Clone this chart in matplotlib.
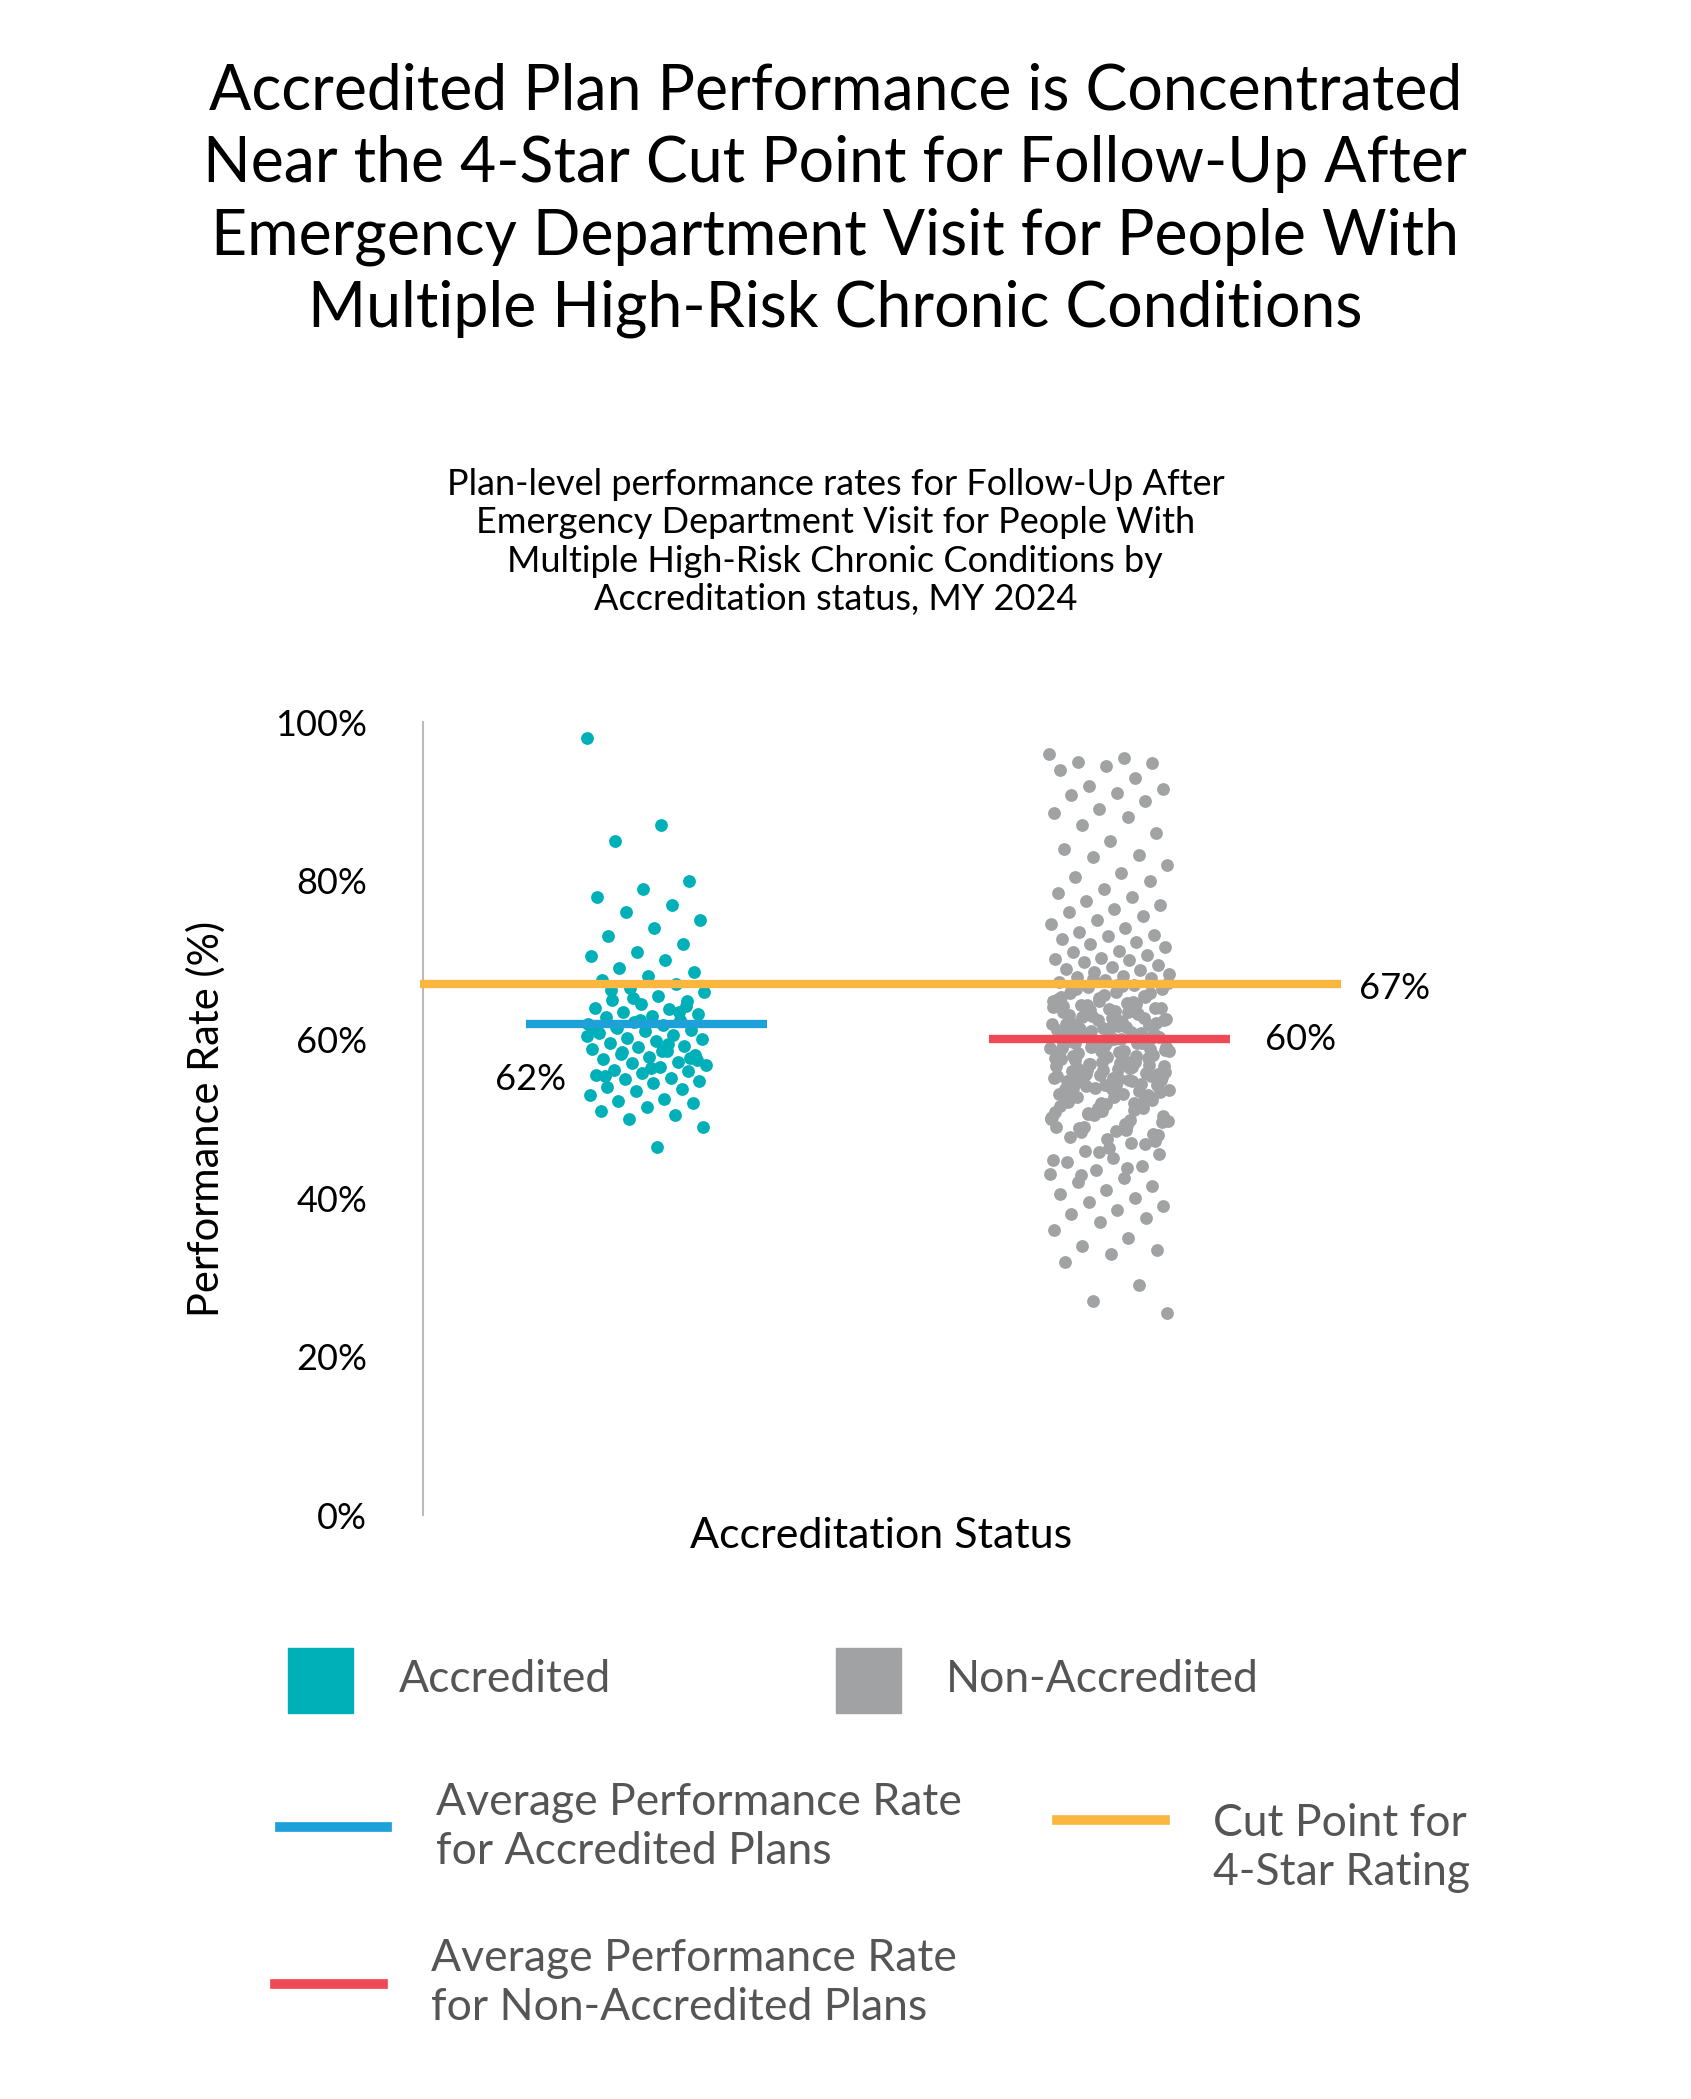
import numpy as np
import matplotlib
matplotlib.use("Agg")
import matplotlib.pyplot as plt
from matplotlib.patches import Rectangle
from matplotlib.lines import Line2D

plt.rcParams['font.family'] = ['Lato', 'DejaVu Sans']

categories = ["Accredited", "Non-Accredited"]
accredited = [98, 87, 85, 80, 79, 78, 77, 76, 75, 74, 73, 72, 71, 70.5, 70, 69, 68.5, 68, 67.5, 67, 66.5, 66,
              65.5, 65, 64.8, 64.5, 64, 63.8, 63.5, 63.2, 63, 62.8, 62.5, 62.2, 62, 61.8, 61.5, 61.2, 61, 60.8,
              60.5, 60.2, 60, 59.8, 59.5, 59.2, 59, 58.8, 58.5, 58.2, 58, 57.8, 57.5, 57.2, 57, 56.8, 56.5, 56.2,
              56, 55.8, 55.5, 55.2, 55, 54.8, 54.5, 54, 53.8, 53.5, 53, 52.5, 52.2, 52, 51.5, 51, 50.5, 50, 49,
              46.5, 66.2, 64.2, 62.4, 61.4, 59.4, 58.4, 57.4, 56.4, 55.4, 63.4, 65.2, 60.4, 58.6, 61.6, 57.6]
non_accredited = [
    96, 95.5, 95, 94.8, 94.5, 94, 93, 92, 91.5, 91, 90.8, 90, 89, 88.5, 88, 87, 86, 85, 84, 83.2, 83, 82, 81,
    80.5, 80, 79, 78.5, 78, 77.5, 77, 76.5, 76, 75.5, 75, 74.5, 74, 73.5, 73.2, 73, 72.6, 72.3, 72, 71.6, 71.2,
    71, 70.6, 70.3, 70.1, 70, 69.7, 69.4, 69.1, 68.9, 68.7, 68.5, 68.2, 68, 67.9,
    67.8, 67.5, 67.2, 66.9, 66.6, 66.3, 66.0, 65.8, 65.5, 65.2, 64.9, 64.6, 64.3, 64.0, 63.8, 63.5, 63.2,
    62.9, 62.6, 62.3, 62.0, 61.8, 61.5, 61.2, 60.9, 60.6, 60.3, 60.0, 59.8, 59.5, 59.2, 58.9, 58.6, 58.3,
    58.0, 57.8, 57.5, 57.2, 56.9, 56.6, 56.3, 56.0, 55.8, 55.5, 55.2, 54.9, 54.6, 54.3, 54.0, 53.8, 53.5,
    67.6, 67.1, 66.7, 66.4, 65.9, 65.6, 65.1, 64.7, 64.4, 63.9, 63.6, 63.1, 62.7, 62.4, 61.9, 61.6, 61.1,
    60.7, 60.4, 59.9, 59.6, 59.1, 58.7, 58.4, 57.9, 57.6, 57.1, 56.7, 56.4, 55.9, 55.6, 55.1, 54.7, 54.4,
    53.9, 53.6, 53.1, 52.7, 52.4, 51.9, 51.6, 51.1, 50.7, 50.4,
    66.8, 66.1, 65.4, 64.8, 64.1, 63.4, 62.8, 62.1, 61.4, 60.8, 60.1, 59.4, 58.8, 58.1, 57.4, 56.8, 56.1,
    55.4, 54.8, 54.1, 53.4, 52.8, 52.1, 51.4, 50.8, 50.1, 49.4, 48.8, 48.1, 47.4,
    65.3, 64.5, 63.7, 62.5, 61.7, 60.5, 59.7, 58.5, 57.7, 56.5, 55.7, 54.5, 53.7, 52.5, 51.7, 50.5, 49.7,
    62.2, 61.3, 60.2, 59.3, 58.2, 57.3, 56.2, 55.3, 54.2, 53.3, 52.2, 51.3, 50.2, 49.2, 48.3, 47.2, 46.3,
    64.2, 63.3, 61.0, 59.0, 57.0, 55.0, 53.0, 51.0, 49.0, 47.0, 46.0, 45.5, 45.0, 44.5, 44.0, 43.5, 43.0,
    42.5, 42.0, 41.5, 41.0, 40.5, 40.0, 39.5, 39.0, 38.5, 38.0, 37.5, 37.0, 36.0, 35.0, 34.0, 33.5, 33.0,
    32.0, 29.0, 27.0, 25.5,
    60.05, 59.55, 58.85, 58.15, 57.35, 56.55, 55.65, 54.85, 53.95, 52.95, 51.85, 50.95, 49.95, 48.55,
    61.35, 60.65, 59.85, 58.95, 57.85, 56.95, 55.95, 54.95, 53.85, 52.85, 51.95, 50.85, 49.85, 48.95, 47.95,
    62.65, 61.95, 60.85, 59.65, 58.55, 57.55, 56.45, 55.35, 54.25, 53.15, 52.05, 50.65, 49.55, 48.45, 47.65,
    46.85, 45.85, 44.85, 43.85, 42.85,
]
avg_accredited = 62
avg_non_accredited = 60
cut_point = 67
yticks = [0, 20, 40, 60, 80, 100]

TEAL = "#00b0b9"; GRAY = "#a0a2a3"; BLUE = "#1ea0d8"; ORANGE = "#fbb640"; RED = "#ef4956"

def jitter(n, width=0.13):
    # deterministic low-discrepancy spread for horizontal positions
    k = np.arange(n)
    return ((k * 0.6180339887) % 1.0 - 0.5) * 2 * width

fig = plt.figure(figsize=(16.91, 20.99), dpi=100)
ax = fig.add_axes([0.250, 0.278, 0.543, 0.378])
ax.set_xlim(-0.484, 1.5)
ax.set_ylim(0, 100)

acc = np.array(accredited); non = np.array(non_accredited)
ax.scatter(0 + jitter(len(acc)), acc, s=85, color=TEAL, zorder=3, linewidths=0)
ax.scatter(1 + jitter(len(non)), non, s=85, color=GRAY, zorder=3, linewidths=0)

ax.plot([-0.26, 0.26], [avg_accredited] * 2, color=BLUE, lw=6, zorder=4, solid_capstyle='butt')
ax.plot([0.74, 1.26], [avg_non_accredited] * 2, color=RED, lw=6, zorder=4, solid_capstyle='butt')
ax.plot([-0.49, 1.5], [cut_point] * 2, color=ORANGE, lw=6, zorder=5, solid_capstyle='butt', clip_on=False)

ax.text(-0.327, 55, f"{avg_accredited}%", fontsize=26, ha='left', va='center')
ax.text(1.336, 60, f"{avg_non_accredited}%", fontsize=26, ha='left', va='center')
ax.text(1.54, 66.4, f"{cut_point}%", fontsize=26, ha='left', va='center')

for s in ['top', 'right', 'bottom']:
    ax.spines[s].set_visible(False)
ax.spines['left'].set_color('#bbbbbb')
ax.spines['left'].set_linewidth(1.5)
ax.set_xticks([])
ax.set_yticks(yticks)
ax.set_yticklabels([f"{v}%" for v in yticks], fontsize=26)
ax.tick_params(axis='y', length=0, pad=40)
ax.set_ylabel("Performance Rate (%)", fontsize=30)
ax.yaxis.set_label_coords(-0.215, 0.5)

title = ("Accredited Plan Performance is Concentrated\nNear the 4-Star Cut Point for Follow-Up After\n"
         "Emergency Department Visit for People With\nMultiple High-Risk Chronic Conditions")
fig.text(0.494, 0.97, title, fontsize=45, ha='center', va='top', linespacing=1.3)
sub = ("Plan-level performance rates for Follow-Up After\nEmergency Department Visit for People With\n"
       "Multiple High-Risk Chronic Conditions by\nAccreditation status, MY 2024")
fig.text(0.494, 0.777, sub, fontsize=26, ha='center', va='top', linespacing=1.2)
fig.text(0.521, 0.268, "Accreditation Status", fontsize=31, ha='center', va='center')

W, H = 1691, 2099
def fx(px): return px / W
def fy(py): return 1 - py / H
LG = "#555555"
fig.patches.append(Rectangle((fx(288), fy(1713)), fx(65), 65 / H, color=TEAL, transform=fig.transFigure))
fig.text(fx(399), fy(1680), "Accredited", fontsize=32, color=LG, va='center')
fig.patches.append(Rectangle((fx(836), fy(1713)), fx(65), 65 / H, color=GRAY, transform=fig.transFigure))
fig.text(fx(946), fy(1680), "Non-Accredited", fontsize=32, color=LG, va='center')

for (x0, x1, y, c) in [(280, 387, 1827, BLUE), (1057, 1165, 1820, ORANGE), (275, 383, 1984, RED)]:
    fig.lines.append(Line2D([fx(x0), fx(x1)], [fy(y), fy(y)], color=c, lw=7, transform=fig.transFigure))
fig.text(fx(436), fy(1827), "Average Performance Rate\nfor Accredited Plans", fontsize=32, color=LG, va='center', linespacing=1.25)
fig.text(fx(1213), fy(1848), "Cut Point for\n4-Star Rating", fontsize=32, color=LG, va='center', linespacing=1.25)
fig.text(fx(431), fy(1983), "Average Performance Rate\nfor Non-Accredited Plans", fontsize=32, color=LG, va='center', linespacing=1.25)

fig.savefig("out.png", dpi=100)
